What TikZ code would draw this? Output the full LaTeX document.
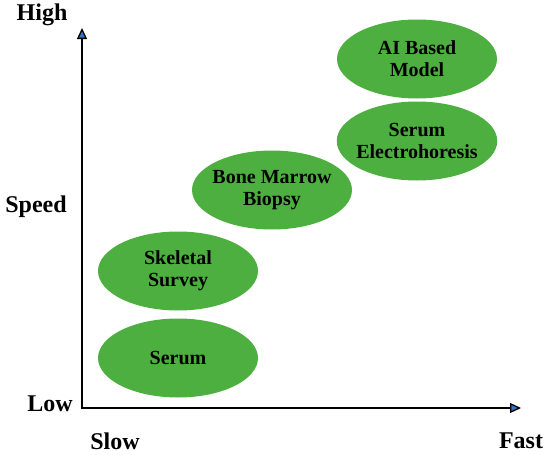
\documentclass[tikz,border=0pt]{standalone}
\usepackage{fontspec}
\setmainfont{Liberation Serif}
\usetikzlibrary{arrows.meta, shapes.geometric}
\definecolor{ink}{HTML}{000000}
\definecolor{leaf}{HTML}{4DAF3F}
\definecolor{tipblue}{HTML}{3573C0}
\tikzset{
  method/.style={ellipse, fill=leaf, minimum width=160pt, minimum height=79pt,
                 inner ysep=0pt, inner xsep=-4pt, align=center, text=ink,
                 font=\fontsize{20}{22}\selectfont\bfseries},
  axlabel/.style={inner sep=0pt, text=ink, font=\fontsize{24}{26}\selectfont\bfseries},
  axis/.style={line width=1.3pt, draw=ink,
               {Triangle[length=11pt, width=10pt, fill=tipblue]}-{Triangle[length=11pt, width=10pt, fill=tipblue]}},
}

\begin{document}
\begin{tikzpicture}[x=1pt, y=-1pt]
  \useasboundingbox (0,0) rectangle (550,455);
  % axes
  \coordinate (ytop) at (82,28);
  \coordinate (origin) at (82,408);
  \coordinate (xend) at (521,408);
  \draw[axis] (ytop) -- (origin) -- (xend);
  \node[axlabel] (high) at (42,15) {High};
  \node[axlabel] (speed) at (36,207) {Speed};
  \node[axlabel] (low) at (50,404) {Low};
  \node[axlabel] (slow) at (115,441) {Slow};
  \node[axlabel] (fast) at (521,441) {Fast};
  % methods
  \node[method] (ai) at (417,59) {AI Based\\Model};
  \node[method] (elec) at (417,141) {Serum\\Electrohoresis};
  \node[method] (bone) at (272,190) {Bone Marrow\\Biopsy};
  \node[method] (skel) at (178,271) {Skeletal\\Survey};
  \node[method] (serum) at (178,358) {Serum};
\end{tikzpicture}
\end{document}
